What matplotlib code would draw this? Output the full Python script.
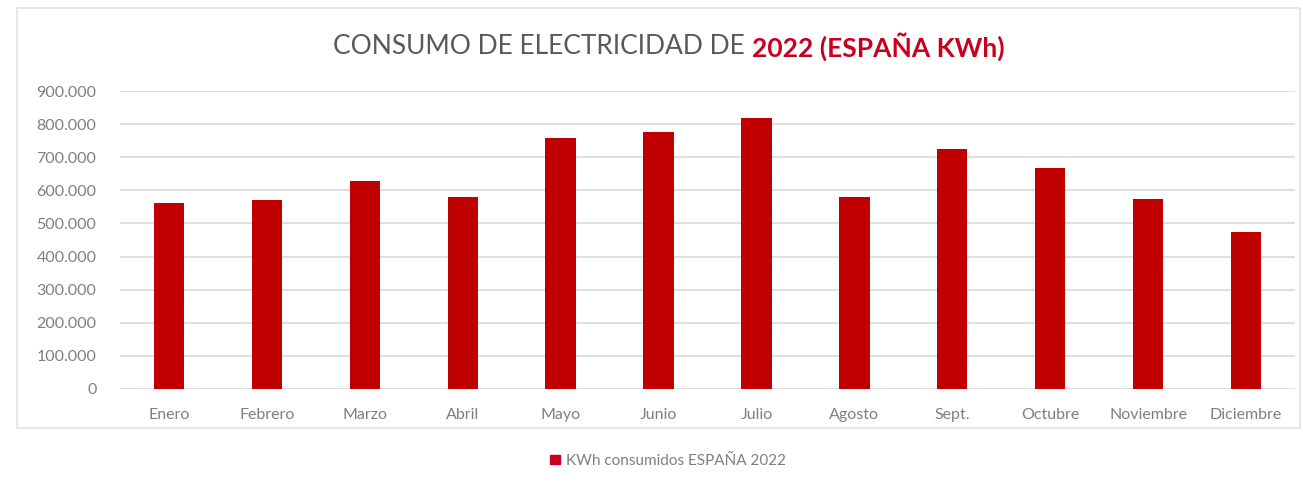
import matplotlib
matplotlib.use("Agg")
import matplotlib.pyplot as plt
from matplotlib.ticker import FuncFormatter, MultipleLocator
from matplotlib.patches import Rectangle, Patch

meses = ["Enero", "Febrero", "Marzo", "Abril", "Mayo", "Junio", "Julio",
         "Agosto", "Sept.", "Octubre", "Noviembre", "Diciembre"]
kwh = [561000, 571000, 629000, 581000, 759000, 775000, 818000,
       581000, 724000, 667000, 574000, 475000]
serie = "KWh consumidos ESPAÑA 2022"

rojo = "#C00000"
rojo_titulo = "#C8001E"
gris = "#595959"
plt.rcParams["font.family"] = ["Lato", "DejaVu Sans"]

fig = plt.figure(figsize=(13.03, 4.88), dpi=100)
ax = fig.add_axes([120 / 1303, 1 - 389 / 488, 1175 / 1303, 298 / 488])

ax.bar(range(len(meses)), kwh, width=0.31, color=rojo, zorder=3)
ax.set_xlim(-0.5, len(meses) - 0.5)
ax.set_ylim(0, 900000)
ax.yaxis.set_major_locator(MultipleLocator(100000))
ax.yaxis.set_major_formatter(FuncFormatter(lambda v, p: f"{int(v):,}".replace(",", ".")))
ax.set_xticks(range(len(meses)))
ax.set_xticklabels(meses)
ax.tick_params(axis="both", length=0, labelsize=11.5, labelcolor="#7f7f7f")
ax.tick_params(axis="x", pad=14)
ax.tick_params(axis="y", pad=17)
ax.grid(axis="y", color="#d9d9d9", linewidth=1.2, zorder=0)
for s in ax.spines.values():
    s.set_visible(False)

# titulo en dos colores, centrado como un solo texto
yt = 1 - 47 / 488
t1 = fig.text(0.5, yt, "CONSUMO DE ELECTRICIDAD DE ", fontsize=19, color=gris,
              ha="right", va="center")
t2 = fig.text(0.5, yt, "2022 (ESPAÑA KWh)", fontsize=19, color=rojo_titulo,
              fontweight="bold", ha="left", va="center")
fig.canvas.draw()
w1 = t1.get_window_extent().width
w2 = t2.get_window_extent().width
xc = 669 / 1303 + (w1 - w2) / 2 / fig.bbox.width
t1.set_x(xc)
t2.set_x(xc)

fig.legend(handles=[Patch(color=rojo_titulo, label=serie)], loc="center",
           bbox_to_anchor=(668 / 1303, 1 - 461 / 488), frameon=False,
           fontsize=11, labelcolor="#7f7f7f", handlelength=0.6, handleheight=0.6,
           handletextpad=0.4)

fig.patches.append(Rectangle((17 / 1303, 1 - 428 / 488), 1283 / 1303, 420 / 488,
                             transform=fig.transFigure, fill=False,
                             edgecolor="#e3e3e3", linewidth=1.2))

fig.savefig("out.png", dpi=100)
